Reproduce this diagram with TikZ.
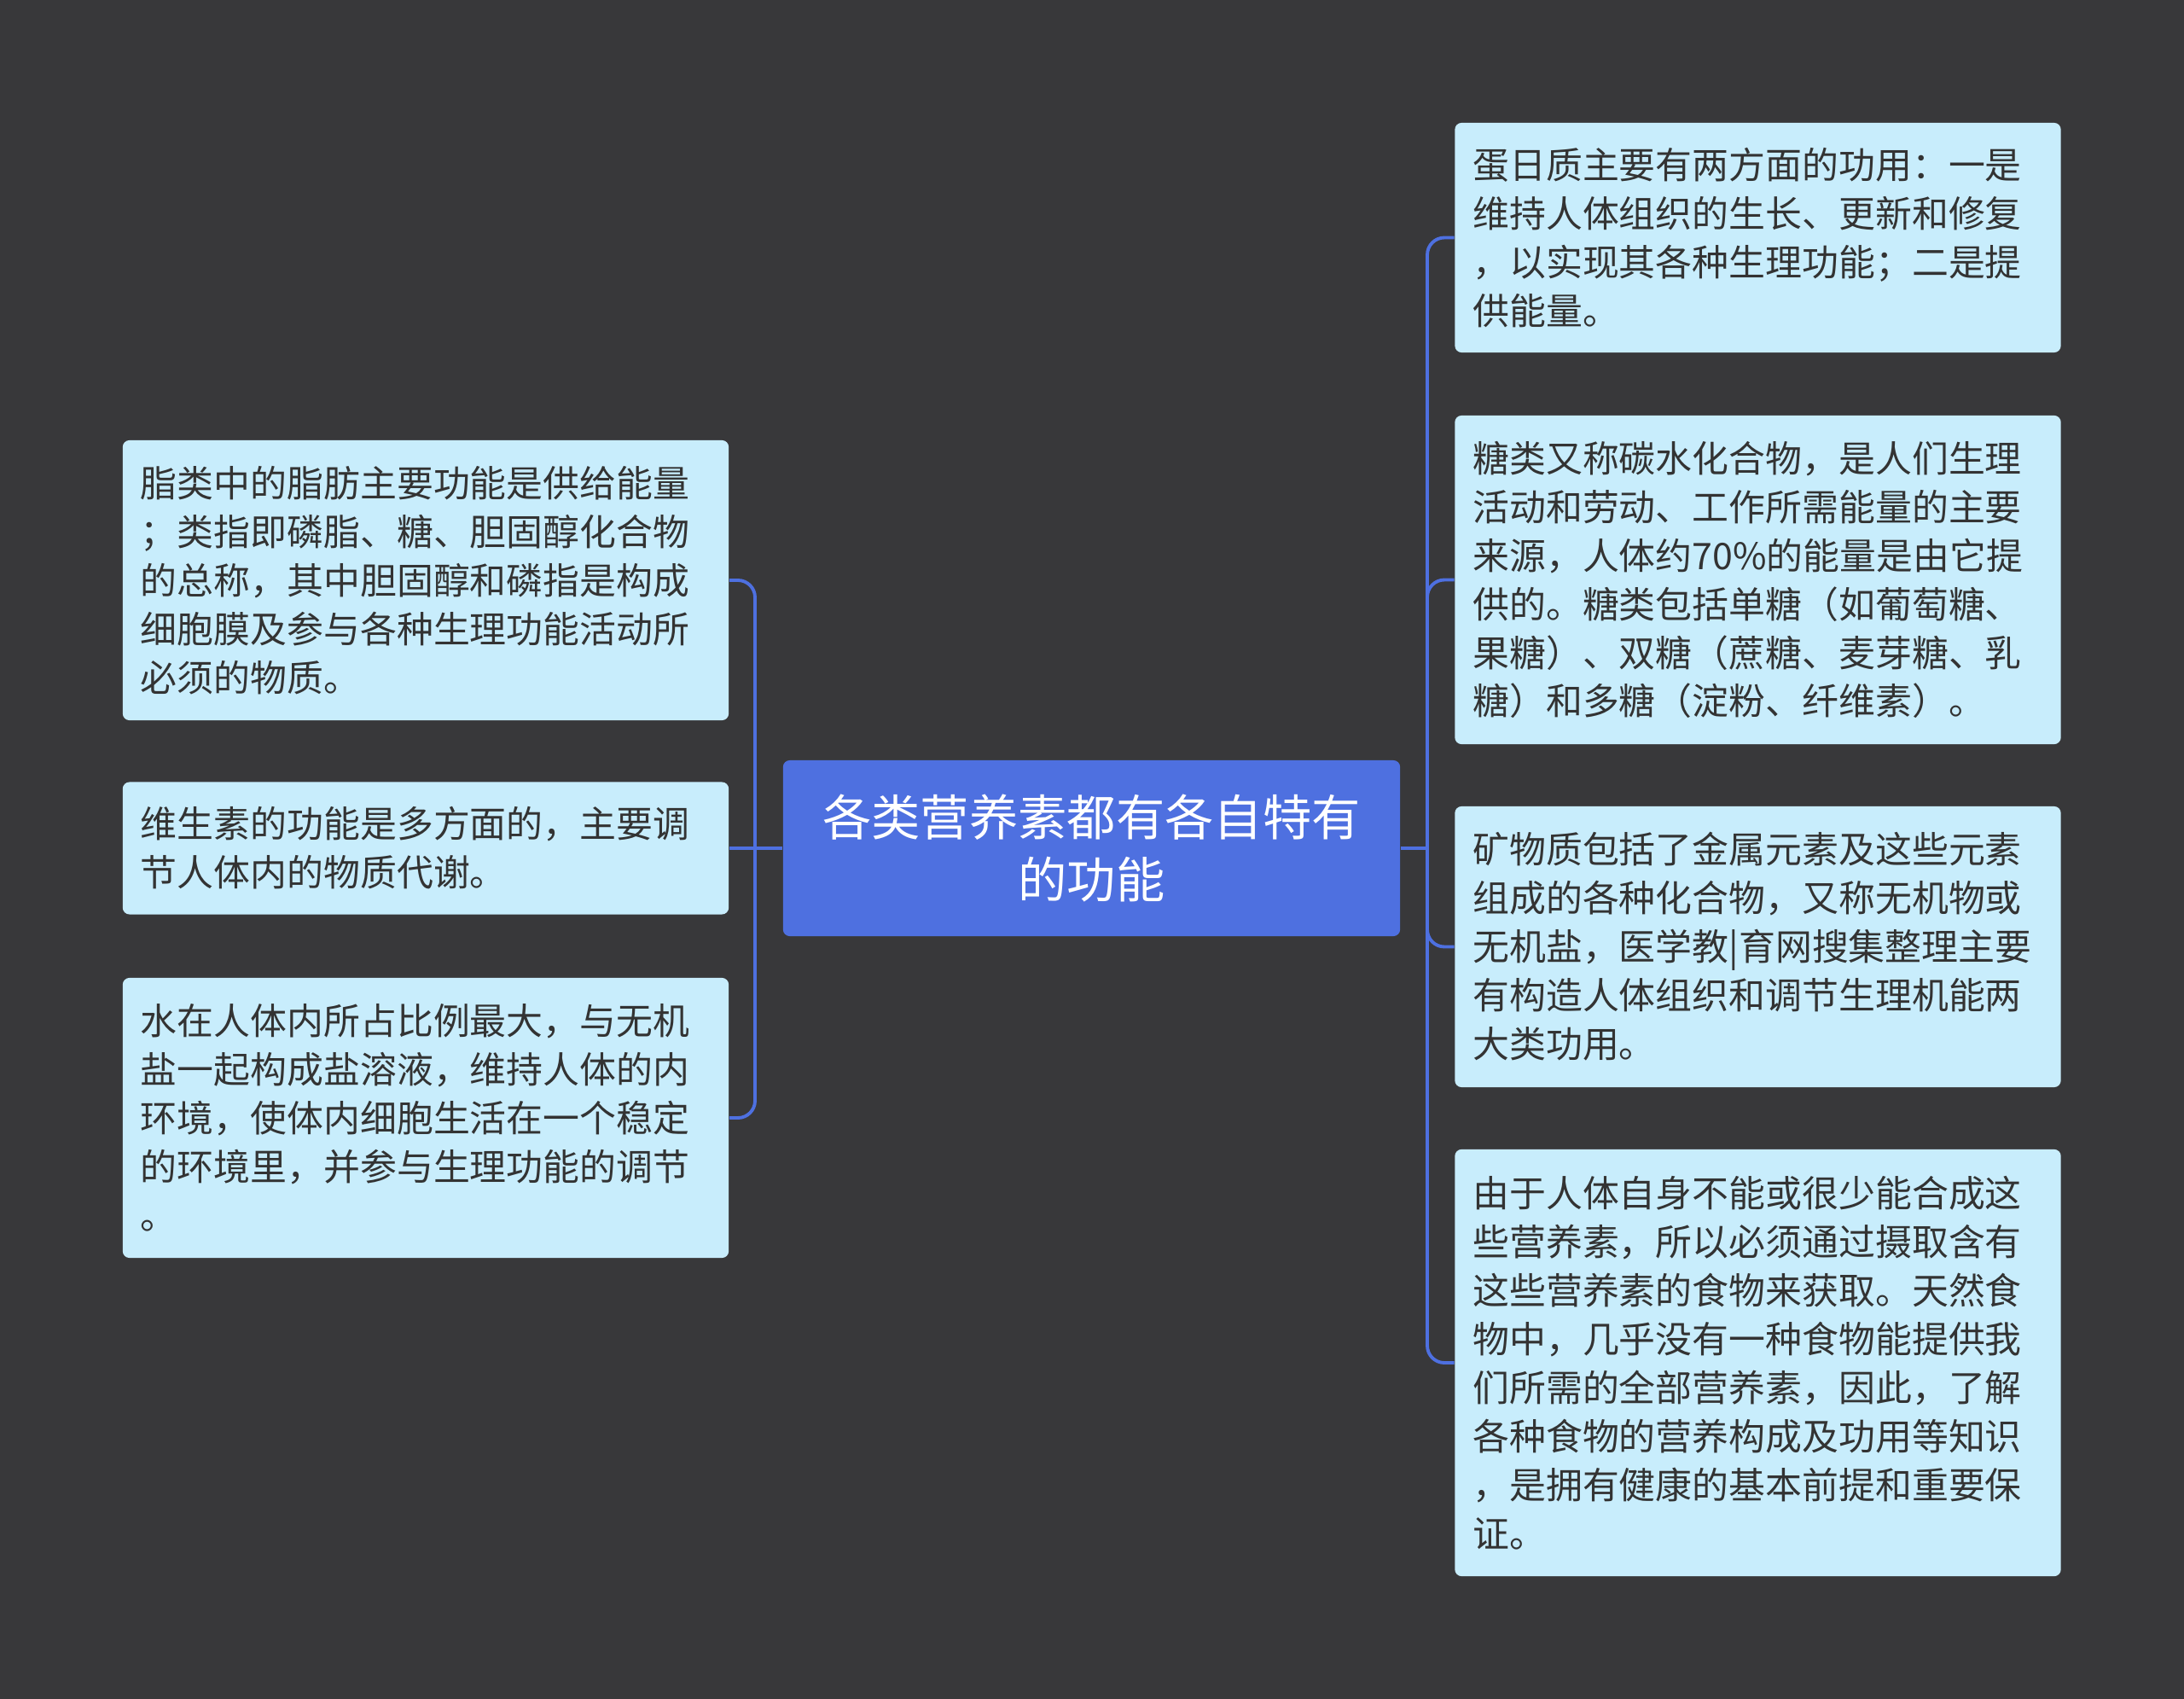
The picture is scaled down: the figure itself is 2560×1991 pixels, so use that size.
\documentclass[tikz,border=0pt]{standalone}
\usepackage{fontspec}
\setmainfont{Noto Sans CJK SC}

\definecolor{bgGray}{RGB}{56,56,58}
\definecolor{topicBlue}{RGB}{78,112,224}
\definecolor{leafCyan}{RGB}{200,237,252}
\definecolor{leafText}{RGB}{51,51,51}

\tikzstyle{mainTopic} = [rectangle, rounded corners = 0.08cm,
                         fill = topicBlue,
                         text = white,
                         text width = 6.8cm,
                         inner xsep = 0.215cm,
                         minimum height = 2.06cm,
                         align = center,
                         font = \fontsize{16.3pt}{20.8pt}\selectfont
                         ]
\tikzstyle{subTopic} = [rectangle, rounded corners = 0.08cm,
                        fill = leafCyan,
                        text = leafText,
                        text width = 6.68cm,
                        inner xsep = 0.21cm,
                        align = left,
                        font = \fontsize{12.2pt}{16.2pt}\selectfont
                        ]
\tikzstyle{link} = [line width = 1.1pt, draw = topicBlue, rounded corners = 0.2cm]

\begin{document}
\begin{tikzpicture}[x = 0.01cm, y = -0.01cm]

    %%% Background
    \fill[bgGray] (0, 0) rectangle (2560, 1991);

    %%% Main topic
    \node (C) at (1279.5, 994) [mainTopic, minimum width = 7.23cm]{各类营养素都有各自特有\\的功能};

    %%% Left branches
    % Fat
    \node (L1) at (499, 680) [subTopic, minimum height = 3.28cm]{脂类中的脂肪主要功能是供给能量\\；类指即磷脂、糖、胆固醇化合物\\的总称，其中胆固醇和磷指是构成\\细胞膜及参与各种生理功能活动所\\必须的物质。};
    % Vitamin
    \node (L2) at (499, 994) [subTopic, minimum height = 1.55cm]{维生素的功能是多方面的，主要调\\节人体内的物质代谢。};
    % Water
    \node (L3) at (499, 1310) [subTopic, minimum height = 3.28cm]{水在人体内所占比例最大，与无机\\盐一起构成盐溶液，维持人体的内\\环境，使体内细胞生活在一个稳定\\的环境里，并参与生理功能的调节\\。};

    %%% Right branches
    % Protein
    \node (R1) at (2060.5, 278.5) [subTopic, minimum height = 2.69cm]{蛋日质主要有两方面的功用：一是\\维持人体组织的生长、更新和修复\\，以实现其各种生理功能；二是提\\供能量。};
    % Sugar
    \node (R2) at (2060.5, 679.5) [subTopic, minimum height = 3.85cm]{糖类又称碳水化合物，是人们生理\\活动和劳动、工作所需能量的主要\\来源，人体约70\%的能量是由它提\\供的。糖类包括单糖（如葡萄糖、\\果糖）、双糖（蔗糖、麦芽糖、乳\\糖）和多糖（淀粉、纤维素）。};
    % Minerals
    \node (R3) at (2060.5, 1109.5) [subTopic, minimum height = 3.29cm]{矿物质包括了金属元素及这些元素\\组成的各种化合物，又称无机物或\\无机盐，医学教|育网搜集整理主要\\有构造人体组织和调节生理机能两\\大类功用。};
    % Food
    \node (R4) at (2060.5, 1597) [subTopic, minimum height = 5.0cm]{由于人体自身不能或很少能合成这\\些营养素，所以必须通过摄取含有\\这些营养素的食物来获取。天然食\\物中，几乎没有一种食物能提供我\\们所需的全部营养素，因此，了解\\各种食物的营养构成及功用等知识\\，是拥有健康的基本前提和重要保\\证。};

    %%% Connectors
    \coordinate (Lbus) at (885, 994);
    \coordinate (Rbus) at (1673, 994);

    % Left
    \draw[link] (C.west) -- (L2.east);
    \draw[link] (Lbus) |- (L1.east);
    \draw[link] (Lbus) |- (L3.east);

    % Right
    \draw[link] (C.east) -- (Rbus);
    \draw[link] (Rbus) |- (R1.west);
    \draw[link] (Rbus) |- (R2.west);
    \draw[link] (Rbus) |- (R3.west);
    \draw[link] (Rbus) |- (R4.west);

\end{tikzpicture}
\end{document}
